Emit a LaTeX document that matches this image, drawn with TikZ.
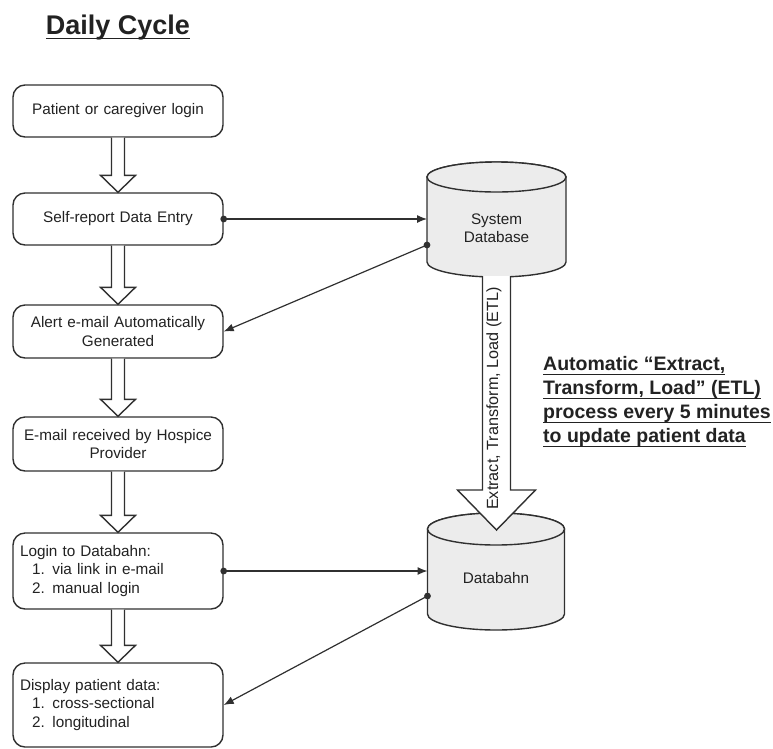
\documentclass[tikz,border=0pt]{standalone}
\usepackage{fontspec}
\setmainfont{Liberation Sans}
\usetikzlibrary{arrows.meta,calc}
\definecolor{ink}{HTML}{303030}
\definecolor{txt}{HTML}{222222}
\definecolor{dbfill}{HTML}{ECECEC}
% block arrow: from node, to node, shaft half width, head half width, head length
\newcommand\blockarr[5]{%
  \draw[blockstyle] let \p1=(#1), \p2=(#2) in
    (\x1-#3,\y1) -- (\x1-#3,\y2+#5) -- (\x1-#4,\y2+#5) -- (\x1,\y2)
    -- (\x1+#4,\y2+#5) -- (\x1+#3,\y2+#5) -- (\x1+#3,\y1);}
% cylinder: cx, top cy, bottom cy, rx, ry
\newcommand\dbcyl[5]{%
  \draw[cylstyle] (#1-#4,#2) -- (#1-#4,#3)
    arc[start angle=180,end angle=360,x radius=#4pt,y radius=#5pt]
    -- (#1+#4,#2)
    arc[start angle=0,end angle=180,x radius=#4pt,y radius=#5pt] -- cycle;
  \draw[cylstyle] (#1,#2) ellipse[x radius=#4pt,y radius=#5pt];}
\newcommand\ulx[1]{\underline{\smash{#1}\rule[-3pt]{0pt}{0pt}}}
\begin{document}
\begin{tikzpicture}[x=1pt,y=-1pt,
  box/.style={draw=ink, line width=1.4pt, rounded corners=12pt, fill=white,
    minimum width=210pt, text width=196pt, inner sep=7pt,
    font=\fontsize{15.3}{18.3}\selectfont, text=txt},
  blockstyle/.style={draw=ink, line width=1.4pt, fill=white, line join=miter},
  cylstyle/.style={draw=ink, line width=1.4pt, fill=dbfill},
  conn/.style={draw=ink, line width=1.2pt, -{Latex[length=10pt,width=8pt]}},
  dot/.style={fill=ink},
  lbl/.style={font=\fontsize{15.3}{18.3}\selectfont, text=txt, align=center}]
\useasboundingbox (0,0) rectangle (773,748);

% title
\node[anchor=base, font=\fontsize{27}{31}\selectfont\bfseries, text=txt]
  (title) at (118,34) {\ulx{Daily Cycle}};

% left boxes
\node[box, minimum height=52pt, align=center] (b1) at (118,111) {Patient or caregiver login};
\node[box, minimum height=52pt, align=center] (b2) at (118,219) {Self-report Data Entry};
\node[box, minimum height=53pt, align=center] (b3) at (118,331.5) {Alert e-mail Automatically\\Generated};
\node[box, minimum height=54pt, align=center] (b4) at (118,444) {E-mail received by Hospice\\Provider};
\node[box, minimum height=76pt, align=left] (b5) at (118,571)
  {Login to Databahn:\\\hspace*{12pt}1. via link in e-mail\\\hspace*{12pt}2. manual login};
\node[box, minimum height=84pt, align=left] (b6) at (118,705)
  {Display patient data:\\\hspace*{12pt}1. cross-sectional\\\hspace*{12pt}2. longitudinal};

% block arrows between boxes
\blockarr{b1.south}{b2.north}{6.5pt}{17.5pt}{17pt}
\blockarr{b2.south}{b3.north}{6.5pt}{17.5pt}{17pt}
\blockarr{b3.south}{b4.north}{6.5pt}{17.5pt}{17pt}
\blockarr{b4.south}{b5.north}{6.5pt}{17.5pt}{17pt}
\blockarr{b5.south}{b6.north}{6.5pt}{17.5pt}{17pt}

% databases
\dbcyl{496.5}{177}{262}{69.5}{15}
\dbcyl{496}{529}{614}{68.5}{16}
\node[lbl] (sysdb) at (496.5,228) {System\\Database};
\node[lbl] (databahn) at (496,578) {Databahn};
\coordinate (sysdbL1) at (427,219);
\coordinate (sysdbL2) at (427,245);
\coordinate (sysdbB) at (496.5,276);
\coordinate (dbL1) at (427.5,571);
\coordinate (dbL2) at (427.5,596);
\coordinate (etltip) at (496.5,530);

% ETL block arrow
\blockarr{sysdbB}{etltip}{14pt}{39pt}{40pt}
\node[rotate=90, font=\fontsize{16.2}{19}\selectfont, text=txt]
  (etl) at (494,398.5) {Extract, Transform, Load (ETL)};

% connectors
\draw[conn] (b2.east) -- (sysdbL1);
\fill[dot] (b2.east) circle[radius=3.4pt];
\draw[conn] (sysdbL2) -- (b3.east);
\fill[dot] (sysdbL2) circle[radius=3.4pt];
\draw[conn] (b5.east) -- (dbL1);
\fill[dot] (b5.east) circle[radius=3.4pt];
\draw[conn] (dbL2) -- (b6.east);
\fill[dot] (dbL2) circle[radius=3.4pt];

% note
\node[anchor=north west, inner sep=0pt, align=left, text=txt,
  font=\fontsize{19.5}{24}\selectfont\bfseries] (note) at (543,370)
  {\ulx{Automatic “Extract,}\\\ulx{Transform, Load” (ETL)}\\\ulx{process every 5 minutes}\\\ulx{to update patient data}};
\end{tikzpicture}
\end{document}
